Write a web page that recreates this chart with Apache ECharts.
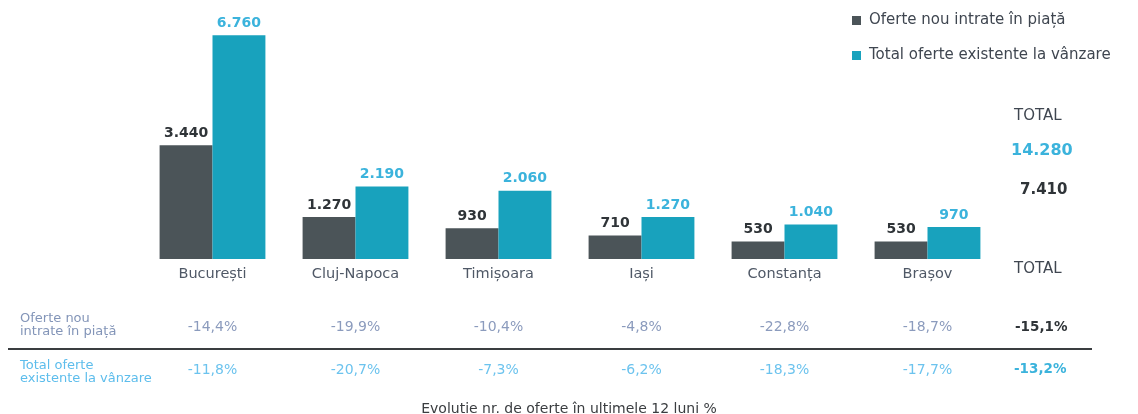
<!DOCTYPE html>
<html>
<head>
<meta charset="utf-8">
<script src="https://cdn.jsdelivr.net/npm/echarts@6/dist/echarts.min.js"></script>
<style>
  html, body { margin: 0; background: #fff; }
  #chart { width: 1138px; height: 414px; }
</style>
</head>
<body>
<div id="chart"></div>
<script>
const cities = ['București', 'Cluj-Napoca', 'Timișoara', 'Iași', 'Constanța', 'Brașov']
const seriesNames = ['Oferte nou intrate în piață', 'Total oferte existente la vânzare']
const newOffers = [3440, 1270, 930, 710, 530, 530]
const totalOffers = [6760, 2190, 2060, 1270, 1040, 970]
const newChange = ['-14,4%', '-19,9%', '-10,4%', '-4,8%', '-22,8%', '-18,7%']
const totalChange = ['-11,8%', '-20,7%', '-7,3%', '-6,2%', '-18,3%', '-17,7%']
const rowLabels = ['Oferte nou\nintrate în piață', 'Total oferte\nexistente la vânzare']
const sumLabel = 'TOTAL'
const sumNew = '7.410'
const sumTotal = '14.280'
const sumNewChange = '-15,1%'
const sumTotalChange = '-13,2%'
const footnote = 'Evolutie nr. de oferte în ultimele 12 luni %'

const FONT = 'DejaVu Sans'
const GRAY = '#4b5458'
const TEAL = '#18a2bd'

function fmt(v) {
  return String(v).replace(/\B(?=(\d{3})+(?!\d))/g, '.')
}

const chart = echarts.init(document.getElementById('chart'))

const hiddenAxis = {
  type: 'category',
  position: 'bottom',
  axisLine: { show: false },
  axisTick: { show: false }
}

chart.setOption({
  animation: false,
  textStyle: { fontFamily: FONT },
  color: [GRAY, TEAL],
  legend: {
    orient: 'vertical',
    left: 847,
    top: 8,
    itemWidth: 9,
    itemHeight: 9,
    itemGap: 20,
    icon: 'rect',
    textStyle: { fontSize: 15, color: '#3f4650', fontFamily: FONT, padding: [0, 0, 0, 3] },
    data: seriesNames
  },
  grid: { left: 141, right: 139, top: 34, bottom: 155 },
  xAxis: [
    {
      type: 'category',
      data: cities,
      axisLine: { show: false },
      axisTick: { show: false },
      axisLabel: { margin: 8, fontSize: 14.5, color: '#4f5866' }
    },
    {
      ...hiddenAxis,
      data: newChange,
      offset: 61,
      axisLabel: { margin: 0, fontSize: 14, color: '#8b9bbd' }
    },
    {
      ...hiddenAxis,
      data: totalChange,
      offset: 104,
      axisLabel: { margin: 0, fontSize: 14, color: '#6cc3ee' }
    }
  ],
  yAxis: {
    type: 'value',
    min: 0,
    max: 6800,
    show: false
  },
  series: [
    {
      name: seriesNames[0],
      type: 'bar',
      data: newOffers,
      barGap: '0%',
      barCategoryGap: '26%',
      itemStyle: { color: GRAY },
      label: {
        show: true,
        position: 'top',
        distance: 5,
        formatter: (p) => fmt(p.value),
        color: '#2f3438',
        fontWeight: 'bold',
        fontSize: 14
      }
    },
    {
      name: seriesNames[1],
      type: 'bar',
      data: totalOffers,
      itemStyle: { color: TEAL },
      label: {
        show: true,
        position: 'top',
        distance: 5,
        formatter: (p) => fmt(p.value),
        color: '#3bb3dc',
        fontWeight: 'bold',
        fontSize: 14
      }
    }
  ],
  graphic: [
    { type: 'text', left: 1014, top: 109, style: { text: sumLabel, fontSize: 15, fill: '#3f4650', fontFamily: FONT } },
    { type: 'text', left: 1011, top: 143, style: { text: sumTotal, fontSize: 16, fontWeight: 'bold', fill: '#3bb3dc', fontFamily: FONT } },
    { type: 'text', left: 1020, top: 183, style: { text: sumNew, fontSize: 15, fontWeight: 'bold', fill: '#2f3438', fontFamily: FONT } },
    { type: 'text', left: 1014, top: 262, style: { text: sumLabel, fontSize: 15, fill: '#3f4650', fontFamily: FONT } },
    { type: 'text', left: 20, top: 312, style: { text: rowLabels[0], fontSize: 13, lineHeight: 13, fill: '#8395b8', fontFamily: FONT } },
    { type: 'text', left: 20, top: 359, style: { text: rowLabels[1], fontSize: 13, lineHeight: 13, fill: '#5dbdec', fontFamily: FONT } },
    { type: 'text', left: 1015, top: 320, style: { text: sumNewChange, fontSize: 13.5, fontWeight: 'bold', fill: '#2f3438', fontFamily: FONT } },
    { type: 'text', left: 1014, top: 362, style: { text: sumTotalChange, fontSize: 13.5, fontWeight: 'bold', fill: '#3bb3dc', fontFamily: FONT } },
    {
      type: 'line',
      shape: { x1: 8, y1: 349, x2: 1092, y2: 349 },
      style: { stroke: '#3a3d40', lineWidth: 2 }
    },
    { type: 'text', left: 'center', top: 402, style: { text: footnote, fontSize: 14, fill: '#3a3d40', fontFamily: FONT } }
  ]
})
</script>
</body>
</html>
